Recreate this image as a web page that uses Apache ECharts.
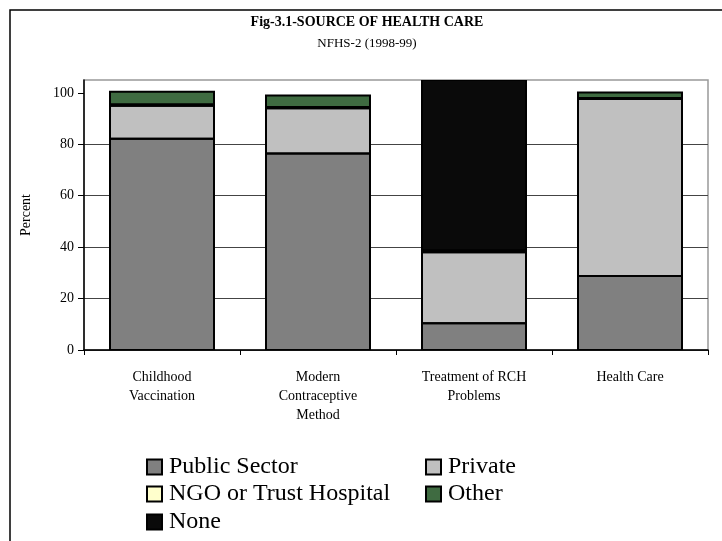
<!DOCTYPE html>
<html><head><meta charset="utf-8">
<script src="https://cdn.jsdelivr.net/npm/echarts@6/dist/echarts.min.js"></script>
<style>html,body{margin:0;padding:0;background:#fff}#c{width:722px;height:541px}</style>
</head><body><div id="c"></div>
<script>
var categories = ['Childhood\nVaccination', 'Modern\nContraceptive\nMethod', 'Treatment of RCH\nProblems', 'Health Care'];
var publicSector = [82.2, 76.4, 10.4, 28.8];
var privateSector = [12.8, 17.6, 27.6, 68.8];
var ngoTrust = [0.5, 0.5, 0.3, 0.4];
var other = [4.9, 4.5, 0.4, 2.1];
var none = [0, 0, 67.0, 0];
var yTicks = [0, 20, 40, 60, 80, 100];
var seriesNames = ['Public Sector', 'Private', 'NGO or Trust Hospital', 'Other', 'None'];
var seriesColors = ['#808080', '#c0c0c0', '#ffffcc', '#3f6b41', '#0a0a0a'];

var serif = 'Liberation Serif';
var Y_MAX = 105;
var BAR_W = 104;
var values = [publicSector, privateSector, ngoTrust, other, none];
var series = seriesNames.map(function (n, i) {
  return {
    name: n, type: 'bar', stack: 'total', data: values[i], barWidth: BAR_W, clip: true,
    itemStyle: { color: seriesColors[i], borderWidth: 0 }
  };
});
// black outlines of each stacked segment, positioned through the axes
series.push({
  type: 'custom', name: 'outline', z: 5, silent: true, clip: true,
  data: categories.map(function (c, i) { return [i]; }),
  encode: { x: 0 },
  renderItem: function (params, api) {
    var i = api.value(0);
    var cx = api.coord([i, 0])[0];
    var children = [];
    var base = 0;
    values.forEach(function (arr) {
      var v = arr[i];
      if (!v) return;
      var top = base + v;
      var p0 = api.coord([i, base]);
      var p1 = api.coord([i, Math.min(top, Y_MAX)]);
      children.push({
        type: 'rect',
        shape: { x: cx - BAR_W / 2, y: p1[1], width: BAR_W, height: p0[1] - p1[1] },
        style: { fill: 'none', stroke: '#000', lineWidth: 2 }
      });
      base = top;
    });
    return { type: 'group', children: children };
  }
});
var legendPos = [[146, 455], [425, 455], [146, 482], [425, 482], [146, 510]];
var legends = seriesNames.map(function (n, i) {
  return {
    data: [n], left: legendPos[i][0], top: legendPos[i][1], icon: 'rect',
    itemWidth: 15, itemHeight: 15, itemGap: 0, padding: 0,
    itemStyle: { borderColor: '#000', borderWidth: 2 },
    textStyle: { fontFamily: serif, fontSize: 24, color: '#000', padding: [0, 0, 0, 2] },
    selectedMode: false
  };
});
var chart = echarts.init(document.getElementById('c'));
chart.setOption({
  animation: false,
  title: {
    text: 'Fig-3.1-SOURCE OF HEALTH CARE', subtext: 'NFHS-2 (1998-99)',
    left: 362, top: 10, textAlign: 'center', itemGap: 8,
    textStyle: { fontFamily: serif, fontWeight: 'bold', fontSize: 14, color: '#000' },
    subtextStyle: { fontFamily: serif, fontSize: 13, color: '#000' }
  },
  legend: legends,
  grid: { left: 84, right: 14, top: 80, bottom: 191, show: true, borderColor: '#999', borderWidth: 1.5, containLabel: false },
  xAxis: {
    type: 'category', data: categories,
    axisLine: { lineStyle: { color: '#000', width: 1.5 } },
    axisTick: { show: true, length: 5, lineStyle: { color: '#000' } },
    axisLabel: { fontFamily: serif, fontSize: 14, color: '#000', margin: 18, lineHeight: 19, interval: 0 }
  },
  yAxis: {
    type: 'value', min: 0, max: Y_MAX, interval: 20,
    name: 'Percent', nameLocation: 'middle', nameGap: 51, nameRotate: 90,
    nameTextStyle: { fontFamily: serif, fontSize: 14, color: '#000' },
    axisLine: { show: true, lineStyle: { color: '#000', width: 1.5 } },
    axisTick: { show: true, length: 6, lineStyle: { color: '#000' }, customValues: yTicks },
    axisLabel: { fontFamily: serif, fontSize: 14, color: '#000', margin: 10, customValues: yTicks },
    splitLine: { show: true, showMaxLine: false, lineStyle: { color: '#444', width: 1 } }
  },
  graphic: [{
    type: 'rect', shape: { x: 10, y: 10, width: 800, height: 600 }, silent: true,
    style: { fill: 'none', stroke: '#000', lineWidth: 1.5 }, z: 100
  }],
  series: series
});
</script></body></html>
